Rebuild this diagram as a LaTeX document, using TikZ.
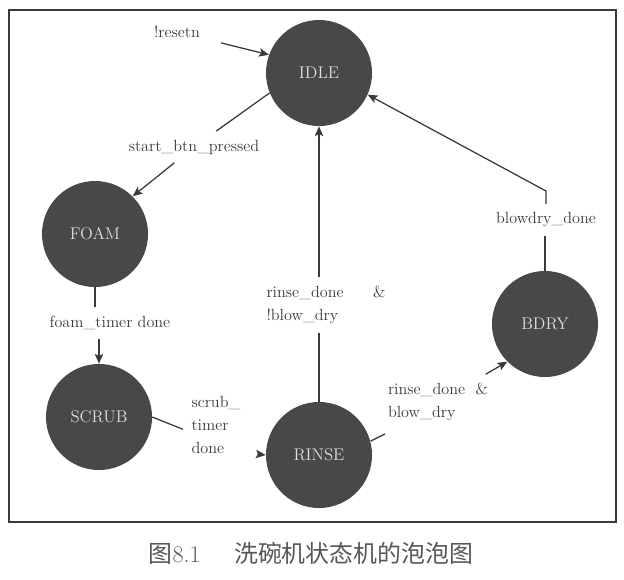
\documentclass[tikz,border=0pt]{standalone}
\usepackage{fontspec}
\newfontfamily\cjk{Noto Sans CJK SC}
\usetikzlibrary{arrows.meta}
\definecolor{bubble}{HTML}{484848}
\definecolor{ink}{HTML}{3A3A3A}

\begin{document}
\begin{tikzpicture}[x=0.025cm,y=-0.025cm,
  state/.style={circle,fill=bubble,minimum size=2.65cm,inner sep=0pt,text=black!13,font=\fontsize{12}{14}\selectfont},
  cond/.style={text=ink,inner sep=6pt,align=left,font=\fontsize{11.5}{16.5}\selectfont},
  wire/.style={draw=ink,line width=0.9pt},
  arr/.style={wire,-{Stealth[length=7pt,width=6pt,inset=1.5pt]}}]
\useasboundingbox (0,0) rectangle (624,579);
\draw[ink,line width=1.4pt] (9,10) rectangle (616,522);

% states
\node[state] (idle) at (319,73) {IDLE};
\node[state] (foam) at (95,234) {FOAM};
\node[state] (scrub) at (99,417) {SCRUB};
\node[state] (rinse) at (319,455) {RINSE};
\node[state] (bdry) at (545,324) {BDRY};

% conditions
\node[cond] (lreset) at (177,32) {!resetn};
\node[cond] (lstart) at (194,147) {start\_btn\_pressed};
\node[cond] (lfoam) at (110,323) {foam\_timer done};
\node[cond] (lscrub) at (216,425) {scrub\_\\timer\\done};
\node[cond] (lrnb) at (326,305) {rinse\_done\hspace{21pt}\&\\!blow\_dry};
\node[cond] (lrbd) at (438,402) {rinse\_done\ \ \&\\blow\_dry};
\node[cond] (lbd) at (546,220) {blowdry\_done};

% transitions
\draw[arr,shorten <=9pt] (lreset) -- (idle.160);
\draw[wire] (idle.202) -- (lstart);
\draw[arr] (lstart) -- (foam.45);
\draw[wire] (foam.south) -- (foam.south |- lfoam.north);
\draw[arr] (lfoam.south -| scrub.north) -- (scrub.north);
\draw[wire] (scrub.east) -- ([yshift=-3pt]lscrub.west);
\draw[arr] ([shift={(6pt,6pt)}]lscrub.south east) -- (rinse.west);
\draw[wire] (rinse.north) -- (rinse.north |- lrnb.south);
\draw[arr] (rinse.north |- lrnb.north) -- (idle.south);
\draw[wire] (rinse.15) -- ([shift={(4pt,-3pt)}]lrbd.south west);
\draw[arr] (lrbd) -- (bdry.225);
\draw[wire] (bdry.north) -- (bdry.north |- lbd.south);
\draw[arr] (lbd.north) -- ++(0,-13) -- (idle.336);

% caption
\node[text=ink!85,font=\fontsize{17}{20}\selectfont] (caption) at (311,553) {{\cjk 图}8.1\hspace{1.4em}{\cjk 洗碗机状态机的泡泡图}};
\end{tikzpicture}
\end{document}
